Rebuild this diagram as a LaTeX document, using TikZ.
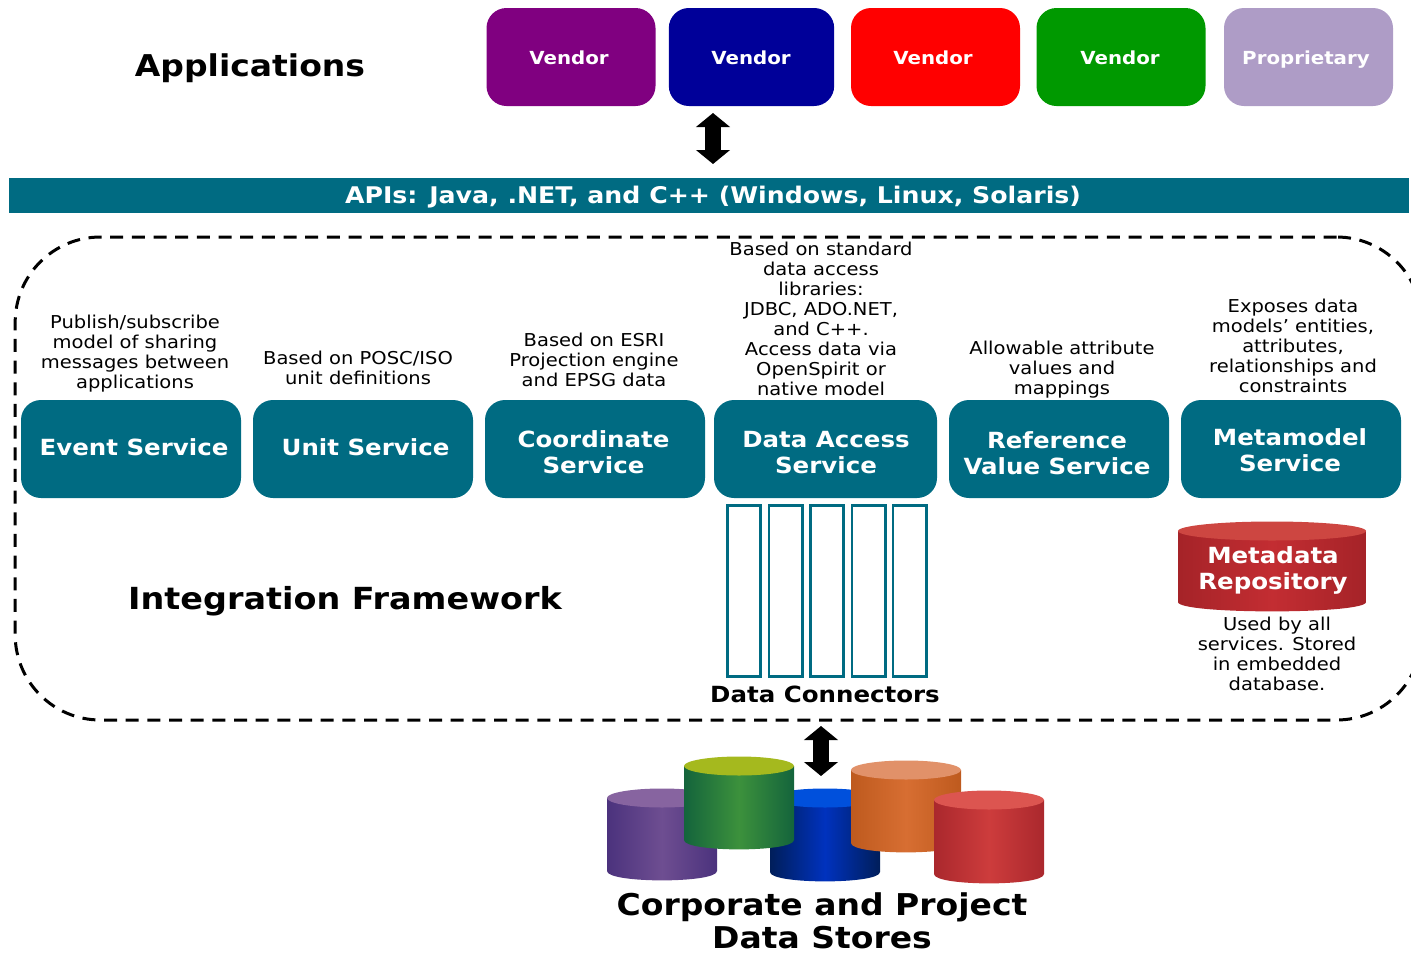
\documentclass[tikz,border=0pt]{standalone}
\usepackage{fontspec}
\setmainfont{DejaVu Sans}[FakeStretch=1.1]
\usepackage{xcolor}
\usetikzlibrary{arrows.meta}
\definecolor{tealbar}{RGB}{0,107,130}
\definecolor{lavender}{RGB}{174,156,198}
\tikzset{
  vendorbox/.style={rounded corners=15pt,minimum height=73.5pt,inner sep=0pt},
  vendortext/.style={text=white,font=\fontsize{13.5}{15}\selectfont\bfseries,inner sep=0pt,text height=10pt,text depth=3pt},
  servicebox/.style={fill=tealbar,rounded corners=15pt,minimum width=165pt,minimum height=73.5pt,inner sep=0pt},
  servicetext/.style={text=white,align=center,font=\fontsize{16.7}{19.5}\selectfont\bfseries,inner sep=0pt},
  slotbox/.style={draw=tealbar,line width=2pt,minimum width=25pt,minimum height=128pt,inner sep=0pt},
  notetext/.style={align=center,font=\fontsize{13.3}{15}\selectfont,inner sep=0pt},
  headtext/.style={align=center,font=\fontsize{22.5}{26}\selectfont\bfseries,inner sep=0pt},
  bigarrow/.style={line width=12.5pt,{Triangle[width=25pt,length=10.5pt]}-{Triangle[width=25pt,length=10.5pt]}},
}
% left, right, top centre, bottom centre, edge colour, middle colour, cap colour
\newcommand{\dbdrum}[7]{
  \shade [left color=#5,right color=#5,middle color=#6] (#1,#3) -- (#1,#4) .. controls (#1,#4+12.5) and (#2,#4+12.5) .. (#2,#4) -- (#2,#3) -- cycle;
  \fill [#7] ({(#1+#2)/2},#3) ellipse [x radius={(#2-#1)/2},y radius=9.5];
}
\definecolor{plumedge}{RGB}{75,50,125}
\definecolor{plummid}{RGB}{110,78,145}
\definecolor{plumcap}{RGB}{135,100,160}
\definecolor{leafedge}{RGB}{20,100,60}
\definecolor{leafmid}{RGB}{60,145,60}
\definecolor{leafcap}{RGB}{165,185,30}
\definecolor{deepedge}{RGB}{0,30,90}
\definecolor{deepmid}{RGB}{0,50,190}
\definecolor{deepcap}{RGB}{0,80,220}
\definecolor{rustedge}{RGB}{190,90,30}
\definecolor{rustmid}{RGB}{215,110,50}
\definecolor{rustcap}{RGB}{225,145,105}
\definecolor{brickedge}{RGB}{170,40,45}
\definecolor{brickmid}{RGB}{205,60,60}
\definecolor{brickcap}{RGB}{220,85,80}
\definecolor{repoedge}{RGB}{165,35,40}
\definecolor{repomid}{RGB}{195,45,50}
\definecolor{repocap}{RGB}{205,70,65}
\begin{document}
\begin{tikzpicture}[x=0.75pt,y=0.75pt,yscale=-1,xscale=1]
	\useasboundingbox (0,0) rectangle (1411,954);

	% Applications row
	\node (appsLabel) [headtext] at (250,68) {Applications};
	\node (vendorA) [vendorbox,fill={rgb,255:red,128;green,0;blue,128},minimum width=126.75pt] at (571,57) {};
	\node (vendorB) [vendorbox,fill={rgb,255:red,0;green,0;blue,153},minimum width=124pt] at (751.5,57) {};
	\node (vendorC) [vendorbox,fill=red,minimum width=126.75pt] at (935.5,57) {};
	\node (vendorD) [vendorbox,fill={rgb,255:red,0;green,153;blue,0},minimum width=126.75pt] at (1121,57) {};
	\node (vendorE) [vendorbox,fill=lavender,minimum width=126.75pt] at (1308.5,57) {};
	\node (vendorAText) [vendortext] at (569,60) {Vendor};
	\node (vendorBText) [vendortext] at (751,60) {Vendor};
	\node (vendorCText) [vendortext] at (933,60) {Vendor};
	\node (vendorDText) [vendortext] at (1120,60) {Vendor};
	\node (vendorEText) [vendortext] at (1306,60) {Proprietary};

	% APIs bar
	\node (apiBar) [fill=tealbar,minimum width=1050pt,minimum height=26.25pt,inner sep=0pt] at (709,195.5) {};
	\node (apiBarText) [vendortext,font=\fontsize{17.2}{19}\selectfont\bfseries,text height=13pt,text depth=4pt] at (713,197) {APIs: Java, .NET, and C++ (Windows, Linux, Solaris)};
	\coordinate (apiArrowTop) at (713,113);
	\coordinate (apiArrowBot) at (713,164);
	\draw [bigarrow] (apiArrowTop) -- (apiArrowBot);

	% Framework outline
	\node (frameBox) [draw,line width=2.25pt,dash pattern={on 9.75pt off 6.5pt},rounded corners=64pt,minimum width=1055pt,minimum height=362.25pt,inner sep=0pt] at (718.5,478.5) {};
	\node (frameLabel) [headtext,font=\fontsize{22.8}{26}\selectfont\bfseries] at (345,601) {Integration Framework};

	% Services
	\node (eventSvc) [servicebox] at (131,449) {};
	\node (unitSvc) [servicebox] at (363,449) {};
	\node (coordSvc) [servicebox] at (595,449) {};
	\node (accessSvc) [servicebox,minimum width=167.25pt] at (825.5,449) {};
	\node (refSvc) [servicebox] at (1059,449) {};
	\node (metaSvc) [servicebox] at (1291,449) {};
	\node (eventText) [servicetext] at (134,447) {Event Service};
	\node (unitText) [servicetext] at (365.5,447) {Unit Service};
	\node (coordText) [servicetext] at (593.5,452) {Coordinate\\Service};
	\node (accessText) [servicetext] at (826,453) {Data Access\\Service};
	\node (refText) [servicetext] at (1057,453) {Reference\\Value Service};
	\node (metaText) [servicetext] at (1290,450) {Metamodel\\Service};

	% Notes over the services
	\node (eventNote) [notetext] at (135,354) {Publish/subscribe\\model of sharing\\messages between\\applications};
	\node (unitNote) [notetext] at (358,368) {Based on POSC/ISO\\unit definitions};
	\node (coordNote) [notetext] at (594,360) {Based on ESRI\\Projection engine\\and EPSG data};
	\node (accessNote) [notetext] at (821,319) {Based on standard\\data access\\libraries:\\JDBC, ADO.NET,\\and C++.\\Access data via\\OpenSpirit or\\native model};
	\node (refNote) [notetext] at (1062,370) {Allowable attribute\\values and\\mappings};
	\node (metaNote) [notetext] at (1293,346) {Exposes data\\models' entities,\\attributes,\\relationships and\\constraints};

	% Data connectors
	\node (slotA) [slotbox] at (744,591) {};
	\node (slotB) [slotbox] at (785.5,591) {};
	\node (slotC) [slotbox] at (827,591) {};
	\node (slotD) [slotbox] at (868.5,591) {};
	\node (slotE) [slotbox] at (909.5,591) {};
	\node (slotLabel) [notetext,font=\fontsize{16.7}{19}\selectfont\bfseries] at (825,694) {Data Connectors};

	% Metadata repository
	\dbdrum{1178}{1366}{531}{602}{repoedge}{repomid}{repocap}
	\node (repoLabel) [servicetext] at (1273,570) {Metadata\\Repository};
	\node (repoNote) [notetext] at (1277,654) {Used by all\\services. Stored\\in embedded\\database.};

	% Data stores
	\coordinate (storeArrowTop) at (821,726);
	\coordinate (storeArrowBot) at (821,776);
	\dbdrum{607}{717}{798}{871}{plumedge}{plummid}{plumcap}
	\dbdrum{770}{880}{798}{872}{deepedge}{deepmid}{deepcap}
	\dbdrum{684}{794}{766}{840}{leafedge}{leafmid}{leafcap}
	\dbdrum{851}{961}{770}{843}{rustedge}{rustmid}{rustcap}
	\dbdrum{934}{1044}{800}{874}{brickedge}{brickmid}{brickcap}
	\draw [bigarrow] (storeArrowTop) -- (storeArrowBot);
	\node (storeLabel) [headtext,font=\fontsize{22.5}{25}\selectfont\bfseries] at (822,921) {Corporate and Project\\Data Stores};

\end{tikzpicture}
\end{document}
